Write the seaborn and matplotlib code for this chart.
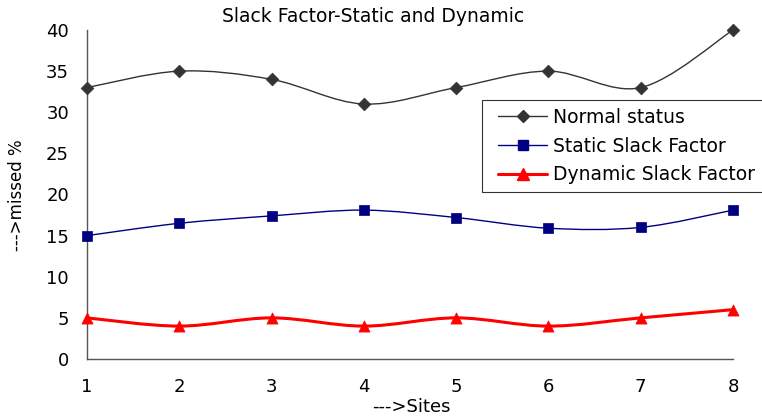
import numpy as np
import pandas as pd
import matplotlib
matplotlib.use("Agg")
import matplotlib.pyplot as plt
from matplotlib.path import Path
from matplotlib.patches import PathPatch
from matplotlib.lines import Line2D
from matplotlib.legend_handler import HandlerLine2D
import seaborn as sns

sites = [1, 2, 3, 4, 5, 6, 7, 8]
normal_status = [33, 35, 34, 31, 33, 35, 33, 40]
static_slack = [15, 16.5, 17.4, 18.1, 17.2, 15.9, 16.0, 18.1]
dynamic_slack = [5, 4, 5, 4, 5, 4, 5, 6]

series_names = ["Normal status", "Static Slack Factor", "Dynamic Slack Factor"]
series_values = [normal_status, static_slack, dynamic_slack]

sns.set_style("white")
plt.rcParams["font.family"] = ["DejaVu Sans"]
plt.rcParams["text.color"] = "black"

fig = plt.figure(figsize=(7.62, 4.18), dpi=100)
ax = fig.add_axes([87 / 762, 1 - 359 / 418, (733 - 87) / 762, (359 - 30) / 418])

styles = {
    "Normal status": dict(color="#333333", lw=1.0, marker="D", ms=6.5),
    "Static Slack Factor": dict(color="#000080", lw=1.0, marker="s", ms=6.5),
    "Dynamic Slack Factor": dict(color="#ff0000", lw=2.2, marker="^", ms=8),
}


def smooth_path(xs, ys):
    """Cubic Bezier path through the points (Catmull-Rom style tangents)."""
    pts = np.column_stack([xs, ys]).astype(float)
    n = len(pts)
    verts = [pts[0]]
    codes = [Path.MOVETO]
    for i in range(n - 1):
        p0 = pts[i - 1] if i > 0 else pts[i]
        p1 = pts[i]
        p2 = pts[i + 1]
        p3 = pts[i + 2] if i + 2 < n else pts[i + 1]
        c1 = p1 + (p2 - p0) / 6.0
        c2 = p2 - (p3 - p1) / 6.0
        verts += [c1, c2, p2]
        codes += [Path.CURVE4] * 3
    return Path(verts, codes)


df = pd.DataFrame({"site": sites * 3,
                   "value": normal_status + static_slack + dynamic_slack,
                   "series": sum([[n] * len(sites) for n in series_names], [])})

handles = []
for name, vals in zip(series_names, series_values):
    st = styles[name]
    ax.add_patch(PathPatch(smooth_path(sites, vals), fill=False,
                           edgecolor=st["color"], lw=st["lw"], zorder=2,
                           clip_on=False))
    sub = df[df["series"] == name]
    sns.scatterplot(data=sub, x="site", y="value", ax=ax, marker=st["marker"],
                    s=st["ms"] ** 2, color=st["color"], edgecolor=st["color"],
                    linewidth=0.5, zorder=3, clip_on=False, legend=False)
    handles.append(Line2D([], [], color=st["color"], lw=st["lw"],
                          marker=st["marker"], ms=st["ms"],
                          markeredgecolor=st["color"]))

ax.set_xlim(1, 8)
ax.set_ylim(0, 40)
ax.set_xticks(sites)
ax.set_yticks(np.arange(0, 41, 5))
ax.tick_params(axis="both", labelsize=13, colors="black", direction="out",
               width=0.8, color="#555555")
ax.tick_params(axis="x", pad=10, length=4)
ax.tick_params(axis="y", pad=8, length=5)
for side in ("top", "right"):
    ax.spines[side].set_visible(False)
for side in ("left", "bottom"):
    ax.spines[side].set_color("#555555")
    ax.spines[side].set_linewidth(1.0)
ax.set_xlabel("")
ax.set_ylabel("")

fig.text(17 / 762, 1 - 195 / 418, "--->missed %", rotation=90, ha="center",
         va="center", fontsize=12, color="black")
fig.text(411 / 762, 1 - 407 / 418, "--->Sites", ha="center", va="center",
         fontsize=13, color="black")
fig.text(373 / 762, 1 - 16 / 418, "Slack Factor-Static and Dynamic",
         ha="center", va="center", fontsize=13.5, color="black")

leg = fig.legend(handles, series_names, loc="upper left",
                 bbox_to_anchor=(482 / 762, 1 - 100 / 418), frameon=True,
                 fancybox=False, edgecolor="black", fontsize=13.5,
                 handlelength=3.05, handletextpad=0.3, borderpad=0.42,
                 labelspacing=0.52, borderaxespad=0,
                 handler_map={Line2D: HandlerLine2D(xpad=0.45)})
leg.get_frame().set_linewidth(0.8)
for txt in leg.get_texts():
    txt.set_color("black")

fig.savefig("out.png", dpi=100)
